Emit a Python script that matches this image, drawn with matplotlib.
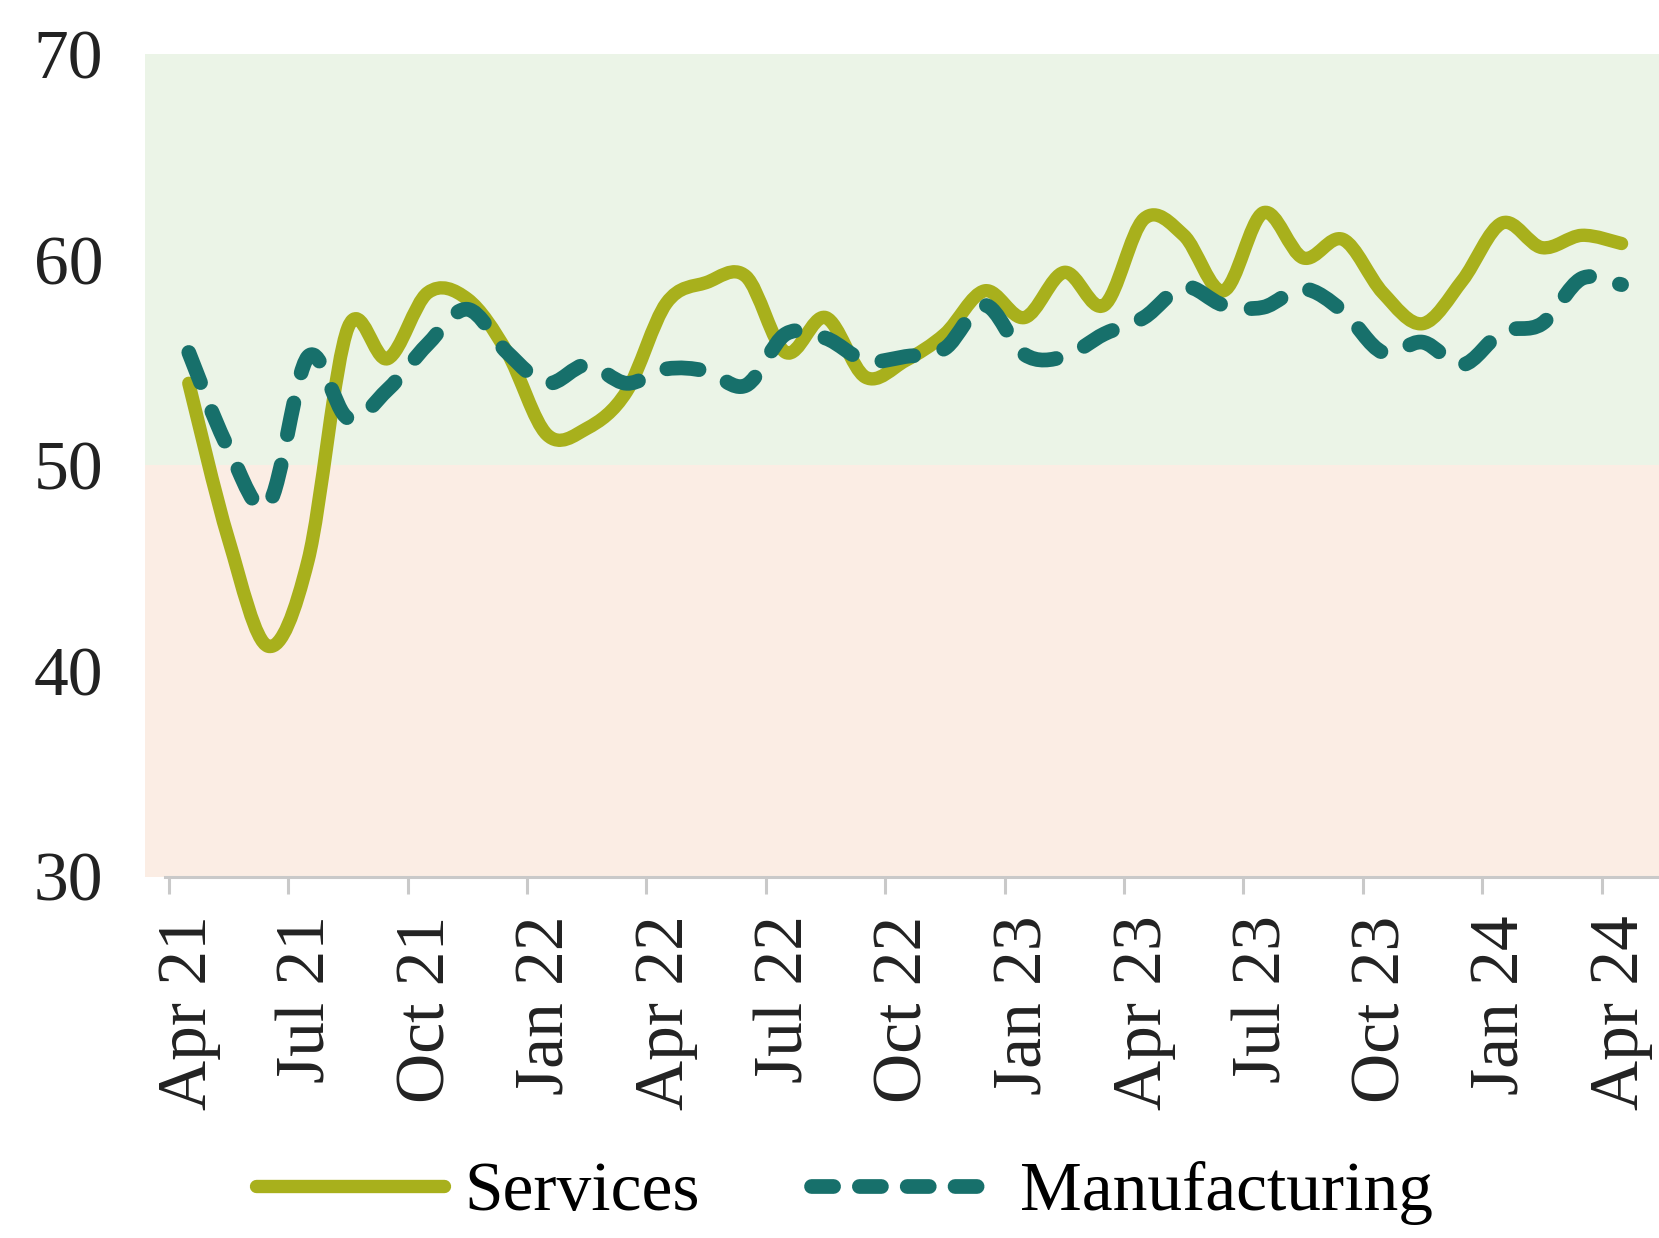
import numpy as np
import matplotlib
matplotlib.use("Agg")
import matplotlib.pyplot as plt
from matplotlib.path import Path
from matplotlib.patches import PathPatch
from matplotlib.lines import Line2D

months = ["Apr 21", "May 21", "Jun 21", "Jul 21", "Aug 21", "Sep 21", "Oct 21", "Nov 21", "Dec 21",
          "Jan 22", "Feb 22", "Mar 22", "Apr 22", "May 22", "Jun 22", "Jul 22", "Aug 22", "Sep 22",
          "Oct 22", "Nov 22", "Dec 22", "Jan 23", "Feb 23", "Mar 23", "Apr 23", "May 23", "Jun 23",
          "Jul 23", "Aug 23", "Sep 23", "Oct 23", "Nov 23", "Dec 23", "Jan 24", "Feb 24", "Mar 24",
          "Apr 24"]

services = [54.0, 46.4, 41.2, 45.4, 56.7, 55.2, 58.4, 58.1, 55.5, 51.5, 51.8, 53.6, 57.9, 58.9,
            59.2, 55.5, 57.2, 54.3, 55.1, 56.4, 58.5, 57.2, 59.4, 57.8, 62.0, 61.2, 58.5, 62.3,
            60.1, 61.0, 58.4, 56.9, 59.0, 61.8, 60.6, 61.2, 60.8]

manufacturing = [55.5, 50.8, 48.1, 55.3, 52.3, 53.7, 55.9, 57.6, 55.5, 54.0, 54.9, 54.0, 54.7,
                 54.6, 53.9, 56.4, 56.2, 55.1, 55.3, 55.7, 57.8, 55.4, 55.3, 56.4, 57.2, 58.7,
                 57.8, 57.7, 58.6, 57.5, 55.5, 56.0, 54.9, 56.5, 56.9, 59.1, 58.8]

tick_labels = months[::3]

SERV_COLOR = "#a8b01c"
MANU_COLOR = "#17706b"
FONT = "Liberation Serif"
FS = 50
SERV_LW = 9.6
MANU_LW = 10.6


def smooth_path(x, y):
    # Excel-style smoothed line: cubic bezier through each point (Catmull-Rom tangents)
    pts = np.column_stack([x, y])
    n = len(pts)
    verts = [pts[0]]
    codes = [Path.MOVETO]
    for i in range(n - 1):
        p0 = pts[max(i - 1, 0)]
        p1 = pts[i]
        p2 = pts[i + 1]
        p3 = pts[min(i + 2, n - 1)]
        c1 = p1 + (p2 - p0) / 6.0
        c2 = p2 - (p3 - p1) / 6.0
        verts += [c1, c2, p2]
        codes += [Path.CURVE4] * 3
    return Path(verts, codes)


fig = plt.figure(figsize=(16.59, 12.38), dpi=100)
ax = fig.add_axes([0.0874, 0.292, 0.9126, 0.664])

xmin, xmax = -0.6, 37.44
ax.set_xlim(xmin, xmax)
ax.set_ylim(30, 70)

ax.axhspan(50, 70, color="#ebf4e7", zorder=0, lw=0)
ax.axhspan(30, 50, color="#fbede4", zorder=0, lw=0)

x = np.arange(len(months)) + 0.5
serv_patch = PathPatch(smooth_path(x, services), facecolor="none", edgecolor=SERV_COLOR,
                       linewidth=SERV_LW, capstyle="round", joinstyle="round", zorder=3)
manu_patch = PathPatch(smooth_path(x, manufacturing), facecolor="none", edgecolor=MANU_COLOR,
                       linewidth=MANU_LW, linestyle=(0, (2.2, 2.1)), capstyle="round",
                       joinstyle="round", zorder=4)
ax.add_patch(serv_patch)
ax.add_patch(manu_patch)

# labels sit on the category centres, tick marks on the category boundaries
ax.set_xticks(np.arange(0, len(months), 3) + 0.5)
ax.set_xticklabels(tick_labels, rotation=90, fontsize=FS, fontfamily=FONT, color="#222222")
ax.set_xticks(np.arange(0, len(months), 3), minor=True)
ax.set_yticks([30, 40, 50, 60, 70])
ax.set_yticklabels(["30", "40", "50", "60", "70"], fontsize=FS, fontfamily=FONT, color="#222222")

for s in ["left", "right", "top"]:
    ax.spines[s].set_visible(False)
ax.spines["bottom"].set_color("#c9c9c9")
ax.spines["bottom"].set_linewidth(2.2)
ax.spines["bottom"].set_bounds(-0.1, xmax)
ax.tick_params(axis="x", which="major", length=0, pad=28)
ax.tick_params(axis="x", which="minor", length=12, width=2.2, color="#c9c9c9")
ax.tick_params(axis="y", length=0, pad=30)

handles = [Line2D([], [], color=SERV_COLOR, lw=SERV_LW, solid_capstyle="round"),
           Line2D([], [], color=MANU_COLOR, lw=MANU_LW, linestyle=(0, (1.5, 1.75)),
                  dash_capstyle="round")]
fig.legend(handles, ["Services", "Manufacturing"], loc="center", bbox_to_anchor=(0.509, 0.036),
           ncol=2, frameon=False, prop={"family": FONT, "size": FS}, handlelength=2.7,
           handletextpad=0.3, columnspacing=1.6)

fig.savefig("out.png", dpi=100)
